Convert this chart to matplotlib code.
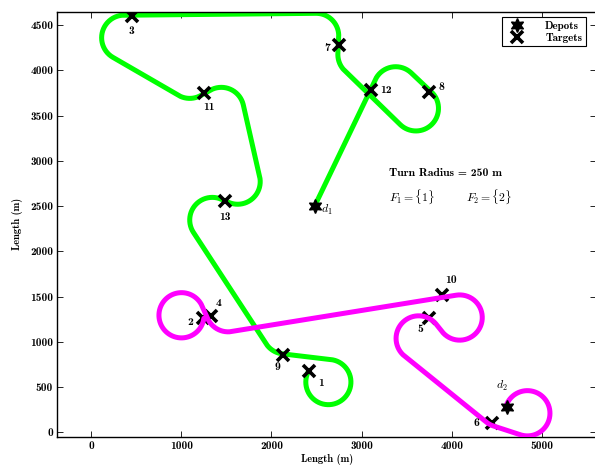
import numpy as np
import matplotlib
matplotlib.use("Agg")
import matplotlib.pyplot as plt
from matplotlib.lines import Line2D

plt.rcParams['mathtext.fontset'] = 'cm'

# ---------------- data ----------------
turn_radius = 250.0

target_ids = ['1', '2', '3', '4', '5', '6', '7', '8', '9', '10', '11', '12', '13']
target_x = [2412, 1241, 450, 1333, 3746, 4440, 2751, 3746, 2125, 3893, 1249, 3101, 1481]
target_y = [681, 1260, 4605, 1285, 1260, 99, 4280, 3758, 854, 1517, 3753, 3782, 2559]

depot_ids = ['$d_1$', '$d_2$']
depot_x = [2478, 4611]
depot_y = [2500, 283]

# green route: start at depot d1, tangent circles (centre x, centre y, +1 ccw / -1 cw), end on target 1
green_cx = [3376, 3600, 2985, 2495, 368, 1094, 1444, 1625, 1344, 2149, 2630]
green_cy = [3790, 3580, 4175, 4380, 4360, 3940, 3562, 2770, 2346, 1115, 555]
green_dir = [-1, -1, -1, 1, 1, 1, -1, -1, 1, 1, -1]

# magenta route: start on depot d2, end on target 2
mag_cx = [4835, 4540, 3630, 4085, 1520, 1003]
mag_cy = [210, 305, 1037, 1268, 1360, 1293]
mag_dir = [-1, -1, -1, 1, -1, 1]

# ---------------- geometry ----------------
def n_vec(th):
    return np.array([-np.sin(th), np.cos(th)])

def tangent(p1, r1, s1, p2, r2, s2):
    d = p2 - p1
    D = np.hypot(*d)
    phi = np.arctan2(d[1], d[0])
    k = s2 * r2 - s1 * r1
    th = phi - np.arcsin(np.clip(k / D, -1, 1))
    a = p1 - s1 * r1 * n_vec(th)
    b = p2 - s2 * r2 * n_vec(th)
    return a, b

def arc(c, r, s, a_in, a_out, n=200):
    if s > 0:
        sweep = (a_out - a_in) % (2 * np.pi)
    else:
        sweep = -((a_in - a_out) % (2 * np.pi))
    t = np.linspace(a_in, a_in + sweep, n)
    return np.column_stack([c[0] + r * np.cos(t), c[1] + r * np.sin(t)])

def route(cx, cy, dirs, start_pt, start_on_circle, end_pt):
    r = turn_radius
    cs = [np.array([x, y], float) for x, y in zip(cx, cy)]
    pts = []
    if start_on_circle:
        v = np.array(start_pt) - cs[0]
        a_in = np.arctan2(v[1], v[0])
    else:
        sp = np.array(start_pt, float)
        a, b = tangent(sp, 0, 1, cs[0], r, dirs[0])
        pts.append(np.array([a, b]))
        v = b - cs[0]
        a_in = np.arctan2(v[1], v[0])
    for i in range(len(cs)):
        if i < len(cs) - 1:
            a, b = tangent(cs[i], r, dirs[i], cs[i + 1], r, dirs[i + 1])
            va = a - cs[i]
            a_out = np.arctan2(va[1], va[0])
            pts.append(arc(cs[i], r, dirs[i], a_in, a_out))
            pts.append(np.array([a, b]))
            vb = b - cs[i + 1]
            a_in = np.arctan2(vb[1], vb[0])
        else:
            v = np.array(end_pt) - cs[i]
            a_out = np.arctan2(v[1], v[0])
            pts.append(arc(cs[i], r, dirs[i], a_in, a_out))
    return np.vstack(pts)

green = route(green_cx, green_cy, green_dir, (depot_x[0], depot_y[0]), False,
              (target_x[0], target_y[0]))
magenta = route(mag_cx, mag_cy, mag_dir, (depot_x[1], depot_y[1]), True,
                (target_x[1], target_y[1]))

# ---------------- plot ----------------
fig = plt.figure(figsize=(5.95, 4.67), dpi=100)
ax = fig.add_axes([57.3 / 595, 30.3 / 467, (596 - 57.3) / 595, 425 / 467])

ax.plot(green[:, 0], green[:, 1], color='#00ff00', lw=3.6, zorder=2, solid_capstyle='round')
ax.plot(target_x, target_y, 'x', color='k', ms=8.5, mew=2.6, zorder=3)
ax.plot(magenta[:, 0], magenta[:, 1], color='#ff00ff', lw=3.6, zorder=4, solid_capstyle='round')
hexagram = (6, 1, 0)
ax.plot(depot_x, depot_y, marker=hexagram, ls='none', color='k', ms=10, zorder=5)

tfont = dict(family='cmb10', size=8.4)
label_off = {'1': (9, -9), '2': (-9, -3), '3': (0, -11), '4': (5, 9), '5': (-6, -8),
             '6': (-11, 0), '7': (-9, -2), '8': (9, 4), '9': (-4, -9), '10': (6, 11),
             '11': (4, -10), '12': (11, 0), '13': (0, -12)}
for tid, x, y in zip(target_ids, target_x, target_y):
    dx, dy = label_off[tid]
    ax.annotate(tid, (x, y), xytext=(dx, dy), textcoords='offset points',
                ha='center', va='center', zorder=6, **tfont)
dep_off = [(9, -3), (-4, 15)]
for did, x, y, (dx, dy) in zip(depot_ids, depot_x, depot_y, dep_off):
    ax.annotate(did, (x, y), xytext=(dx, dy), textcoords='offset points',
                ha='center', va='center', fontsize=8.5, zorder=6)

ax.text(3300, 2862, 'Turn Radius = 250 m', ha='left', va='center', **tfont)
ax.text(3300, 2600, r'$F_1 = \{1\}$', ha='left', va='center', fontsize=8.5)
ax.text(4150, 2600, r'$F_2 = \{2\}$', ha='left', va='center', fontsize=8.5)

ax.set_xlim(-373, 5595)
ax.set_ylim(-49, 4648)
ax.set_xticks([0, 1000, 2000, 3000, 4000, 5000])
ax.set_yticks(np.arange(0, 4501, 500))
ax.tick_params(direction='in', top=True, right=True, length=4, width=0.6, pad=3)
for lab in ax.get_xticklabels() + ax.get_yticklabels():
    lab.set_fontfamily('cmb10')
    lab.set_fontsize(8.2)
for sp in ax.spines.values():
    sp.set_linewidth(1.0)
ax.set_xlabel('Length (m)', fontfamily='cmb10', fontsize=7.5, labelpad=2)
ax.set_ylabel('Length (m)', fontfamily='cmb10', fontsize=7.5, labelpad=5)

handles = [Line2D([], [], marker=hexagram, ls='none', color='k', ms=10),
           Line2D([], [], marker='x', ls='none', color='k', ms=8.5, mew=2.6)]
leg = ax.legend(handles, ['Depots', 'Targets'], loc='upper right',
                bbox_to_anchor=((585.5 - 57.3) / (596 - 57.3), 0.987),
                prop={'family': 'cmb10', 'size': 8}, fancybox=False,
                edgecolor='k', framealpha=1, borderpad=0.3, handletextpad=1.4,
                labelspacing=0.2, handlelength=2.2, borderaxespad=0)
leg.get_frame().set_linewidth(0.8)

fig.savefig('out.png', dpi=100)
